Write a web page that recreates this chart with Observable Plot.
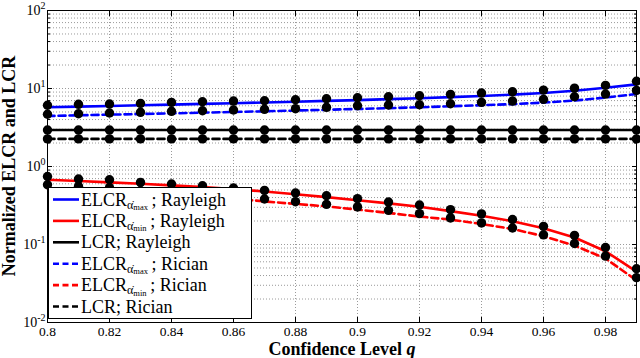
<!DOCTYPE html>
<html><head><meta charset="utf-8">
<script src="https://cdn.jsdelivr.net/npm/d3@7"></script>
<script src="https://cdn.jsdelivr.net/npm/@observablehq/plot@0.6"></script>
<style>
body{margin:0;background:#fff}
#chart svg text, #chart svg tspan { font-family: 'Liberation Serif', 'Times New Roman', serif !important; }
</style>
</head><body><div id="chart"></div>
<script>
const q = [0.80,0.81,0.82,0.83,0.84,0.85,0.86,0.87,0.88,0.89,0.90,0.91,0.92,0.93,0.94,0.95,0.96,0.97,0.98,0.99];
// analytic curves
const elcrMaxRayleigh = [5.74,5.85,5.97,6.10,6.22,6.35,6.48,6.62,6.77,6.93,7.10,7.30,7.50,7.75,8.00,8.35,8.75,9.35,10.2,11.3];
const elcrMinRayleigh = [0.676,0.651,0.625,0.601,0.572,0.545,0.514,0.478,0.440,0.405,0.370,0.337,0.305,0.268,0.234,0.199,0.162,0.123,0.0820,0.0450];
const lcrRayleigh = [2.94,2.94,2.94,2.94,2.94,2.94,2.94,2.94,2.94,2.94,2.94,2.94,2.94,2.94,2.94,2.94,2.94,2.94,2.94,2.94];
const elcrMaxRician = [4.44,4.53,4.62,4.71,4.80,4.90,5.00,5.10,5.22,5.34,5.46,5.60,5.75,5.92,6.10,6.30,6.60,7.00,7.65,8.50];
const elcrMinRician = [0.527,0.504,0.482,0.461,0.441,0.416,0.387,0.357,0.331,0.308,0.280,0.254,0.228,0.209,0.183,0.158,0.128,0.097,0.0662,0.0347];
const lcrRician = [2.26,2.26,2.26,2.26,2.26,2.26,2.26,2.26,2.26,2.26,2.26,2.26,2.26,2.26,2.26,2.26,2.26,2.26,2.26,2.26];
// simulation markers
const simMaxRayleigh = [6.09,6.27,6.32,6.45,6.64,6.76,6.90,6.97,7.17,7.39,7.61,7.83,8.07,8.41,8.74,9.08,9.54,10.1,10.96,12.4];
const simMinRayleigh = [0.745,0.690,0.676,0.625,0.596,0.567,0.530,0.494,0.457,0.422,0.387,0.351,0.321,0.280,0.247,0.209,0.171,0.131,0.0916,0.0489];
const simLcrRayleigh = [2.94,2.94,2.94,2.94,2.94,2.94,2.94,2.94,2.94,2.94,2.94,2.94,2.94,2.94,2.94,2.94,2.94,2.94,2.94,2.94];
const simMaxRician = [4.67,4.75,4.85,4.95,5.10,5.19,5.30,5.41,5.51,5.74,6.01,6.14,6.19,6.38,6.64,6.90,7.26,7.83,8.48,9.46];
const simMinRician = [0.584,0.555,0.535,0.490,0.461,0.441,0.410,0.383,0.354,0.327,0.303,0.274,0.249,0.219,0.189,0.163,0.133,0.103,0.0709,0.0376];
const simLcrRician = [2.26,2.26,2.26,2.26,2.26,2.26,2.26,2.26,2.26,2.26,2.26,2.26,2.26,2.26,2.26,2.26,2.26,2.26,2.26,2.26];

const xTicks = [0.80,0.82,0.84,0.86,0.88,0.90,0.92,0.94,0.96,0.98];
const yTicks = [0.01,0.1,1,10,100];
const yMinor = [0.02,0.03,0.04,0.05,0.06,0.07,0.08,0.09,0.2,0.3,0.4,0.5,0.6,0.7,0.8,0.9,2,3,4,5,6,7,8,9,20,30,40,50,60,70,80,90];

const seriesNames = ["ELCR max; Rayleigh","ELCR min; Rayleigh","LCR; Rayleigh","ELCR max; Rician","ELCR min; Rician","LCR; Rician"];
const legendMain = ["ELCR","ELCR","LCR; Rayleigh","ELCR","ELCR","LCR; Rician"];
const legendSub = ["max","min",null,"max","min",null];
const legendTail = ["\u2009; Rayleigh","\u2009; Rayleigh",null,"\u2009; Rician","\u2009; Rician",null];
const colors = ["#0000ff","#ff0000","#000000","#0000ff","#ff0000","#000000"];
const dashes = [null,null,null,"7,4","7,4","7,4"];
const lineVals = [elcrMaxRayleigh,elcrMinRayleigh,lcrRayleigh,elcrMaxRician,elcrMinRician,lcrRician];
const simVals = [simMaxRayleigh,simMinRayleigh,simLcrRayleigh,simMaxRician,simMinRician,simLcrRician];

const lineMarks = lineVals.map((vals,i) => Plot.line(q.map((x,j)=>({q:x, v:vals[j]})), {
  x:"q", y:"v", stroke: colors[i], strokeWidth: 2.6, strokeDasharray: dashes[i]
}));
const simRows = simVals.flatMap((vals,i) => q.map((x,j)=>({q:x, v:vals[j], s:seriesNames[i]})));

const gridStyle = {stroke:"#9a9a9a", strokeOpacity:1, strokeWidth:1, strokeDasharray:"1,2"};
const serif = "'Liberation Serif','Times New Roman',serif";

const chart = Plot.plot({
  width: 640, height: 358,
  marginLeft: 47, marginRight: 4, marginTop: 10, marginBottom: 36,
  style: {fontFamily: serif, fontSize: "14px", background: "white", color: "black"},
  x: {domain: [0.8, 0.99]},
  y: {type: "log", domain: [0.01, 100]},
  marks: [
    Plot.gridX(xTicks.slice(1), gridStyle),
    Plot.gridY(yMinor, gridStyle),
    Plot.gridY(yTicks, gridStyle),
    ...lineMarks,
    Plot.dot(simRows, {x:"q", y:"v", r:4.7, fill:"black", stroke:"none"}),
    Plot.frame({stroke:"black", strokeWidth:1}),
    Plot.axisX({ticks: xTicks, tickFormat: d => String(+d.toFixed(2)), tickSize: -5, tickPadding: 9, label: null, fontSize: 13.5}),
    Plot.axisX({anchor:"top", ticks: xTicks, tickFormat: () => "", tickSize: -5, label: null}),
    Plot.axisY({ticks: yTicks, tickFormat: d => "10^" + Math.round(Math.log10(d)), tickSize: -5, tickPadding: 7, label: null, fontSize: 14}),
    Plot.axisY({ticks: yMinor, tickFormat: () => "", tickSize: -3, label: null}),
    Plot.axisY({anchor:"right", ticks: yTicks, tickFormat: () => "", tickSize: -5, label: null}),
    Plot.axisY({anchor:"right", ticks: yMinor, tickFormat: () => "", tickSize: -3, label: null})
  ]
});
document.getElementById("chart").appendChild(chart);

// superscript exponents on y tick labels
chart.querySelectorAll('g[aria-label="y-axis tick label"] text').forEach(t => {
  const s = t.textContent;
  if (!s.includes("^")) return;
  const [base, exp] = s.split("^");
  t.textContent = base;
  const ts = document.createElementNS("http://www.w3.org/2000/svg","tspan");
  ts.setAttribute("dy","-0.55em");
  ts.setAttribute("font-size","10");
  ts.textContent = exp;
  t.appendChild(ts);
});

const svg = d3.select(chart);
// axis titles
svg.append("text").attr("transform","translate(15,166) rotate(-90)")
  .attr("text-anchor","middle").attr("font-family",serif).attr("font-weight","bold").attr("font-size",18)
  .attr("fill","black").text("Normalized ELCR and LCR");
const xl = svg.append("text").attr("x",342).attr("y",355)
  .attr("text-anchor","middle").attr("font-family",serif).attr("font-weight","bold").attr("font-size",18).attr("fill","black");
xl.append("tspan").text("Confidence Level ");
xl.append("tspan").attr("font-style","italic").text("q");

// legend
const lg = svg.append("g").attr("text-anchor","start");
lg.append("rect").attr("x",48.5).attr("y",187.5).attr("width",203).attr("height",131)
  .attr("fill","white").attr("stroke","black").attr("stroke-width",1);
seriesNames.forEach((name,i) => {
  const cy = 199.5 + i*21.4;
  lg.append("line").attr("x1",53).attr("x2",79).attr("y1",cy).attr("y2",cy)
    .attr("stroke",colors[i]).attr("stroke-width",2.6).attr("stroke-dasharray",dashes[i] ? "6,3.5" : null);
  const t = lg.append("text").attr("x",81).attr("y",cy+6).attr("text-anchor","start")
    .attr("font-family",serif).attr("font-size",18).attr("fill","black");
  t.append("tspan").text(legendMain[i]);
  if (legendSub[i]) {
    t.append("tspan").attr("font-size",12).attr("dy",3).text("\u03B1\u0307");
    t.append("tspan").attr("font-size",8.5).attr("dy",1.5).text(legendSub[i]);
    t.append("tspan").attr("font-size",18).attr("dy",-4.5).text(legendTail[i]);
  }
});
</script></body></html>
